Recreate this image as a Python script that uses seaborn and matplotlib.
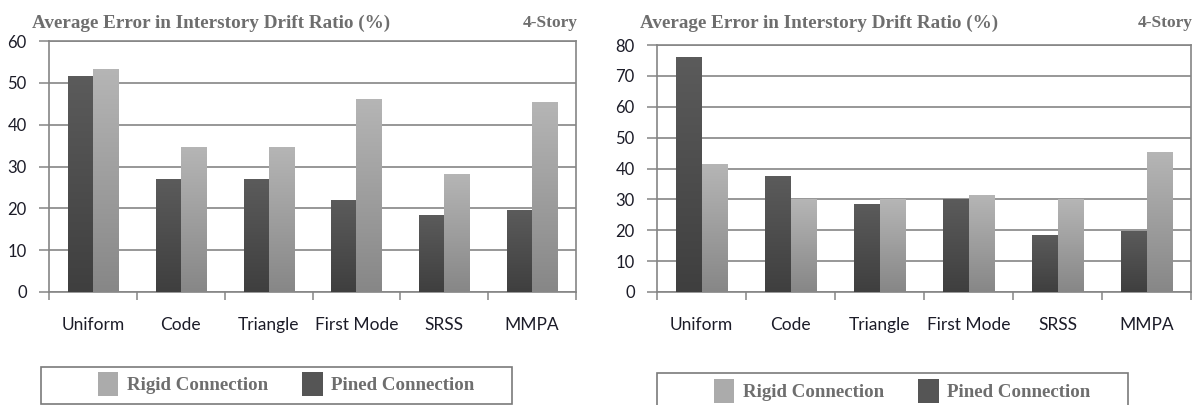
import numpy as np
import pandas as pd
import matplotlib
matplotlib.use("Agg")
import matplotlib.pyplot as plt
from matplotlib.patches import Patch, Rectangle
from matplotlib.ticker import FixedLocator
import seaborn as sns

# data
methods = ["Uniform", "Code", "Triangle", "First Mode", "SRSS", "MMPA"]
conns = ["Pined Connection", "Rigid Connection"]
left_pined = [51.6, 26.8, 26.8, 21.9, 18.4, 19.4]
left_rigid = [53.3, 34.6, 34.6, 46.0, 28.2, 45.2]
right_pined = [76.0, 37.4, 28.2, 30.1, 18.2, 19.5]
right_rigid = [41.2, 30.0, 30.0, 31.1, 30.0, 45.1]
left_yticks = [0, 10, 20, 30, 40, 50, 60]
right_yticks = [0, 10, 20, 30, 40, 50, 60, 70, 80]
title_text = "Average Error in Interstory Drift Ratio (%)"
story_text = "4-Story"

DARK = ("#5b5b5b", "#3f3f3f")   # top, bottom of gradient
LIGHT = ("#b5b5b5", "#878787")
GRID = "#858585"
TITLE_C = "#6e6e6e"

sns.set_style("white")
plt.rcParams["font.family"] = ["Lato", "DejaVu Sans"]

W, H = 1195, 405
fig = plt.figure(figsize=(W / 100, H / 100), dpi=100)


def long_df(pined, rigid):
    rows = []
    for m, p, r in zip(methods, pined, rigid):
        rows.append((m, conns[0], p))
        rows.append((m, conns[1], r))
    return pd.DataFrame(rows, columns=["method", "conn", "value"])


def gradient(top, bottom, n=64):
    t = np.linspace(0, 1, n)[:, None]
    c0 = np.array(matplotlib.colors.to_rgb(top))
    c1 = np.array(matplotlib.colors.to_rgb(bottom))
    return (c0 * (1 - t) + c1 * t)[:, None, :]


def draw_panel(px, pined, rigid, yticks, legend_box, legend_y):
    x0, x1, ytop, ybot = px
    ax = fig.add_axes([x0 / W, 1 - ybot / H, (x1 - x0) / W, (ybot - ytop) / H])
    df = long_df(pined, rigid)
    sns.barplot(data=df, x="method", y="value", hue="conn", hue_order=conns,
                palette=[DARK[1], LIGHT[1]], width=0.57, gap=0, ax=ax,
                legend=False, errorbar=None, linewidth=0, saturation=1)
    # vertical shading on each bar
    for cont, (ct, cb) in zip(ax.containers, [DARK, LIGHT]):
        img = gradient(ct, cb)
        for p in cont.patches:
            bx, bw, bh = p.get_x(), p.get_width(), p.get_height()
            ax.imshow(img, extent=(bx, bx + bw, 0, bh), origin="upper",
                      aspect="auto", zorder=3, interpolation="bilinear")
    ax.set_xlim(-0.5, len(methods) - 0.5)
    ax.set_ylim(yticks[0], yticks[-1])
    ax.set_yticks(yticks)
    ax.set_xlabel("")
    ax.set_ylabel("")
    ax.yaxis.grid(True, color=GRID, lw=1.2, zorder=0)
    ax.set_axisbelow(True)
    for s in ax.spines.values():
        s.set_color(GRID)
        s.set_linewidth(1.2)
    ax.xaxis.set_minor_locator(FixedLocator(np.arange(-0.5, len(methods), 1.0)))
    ax.tick_params(axis="x", which="major", length=0, pad=18, labelsize=12.5,
                   labelcolor="#1c1c28")
    ax.tick_params(axis="x", which="minor", length=6, color=GRID, width=1.1,
                   direction="out", bottom=True)
    ax.tick_params(axis="y", length=7, color=GRID, width=1.1, direction="out",
                   pad=9, labelsize=12, labelcolor="#1c1c28", left=True)

    # header texts
    fig.text((x0 - 17) / W, 1 - 23 / H, title_text, ha="left", va="center",
             family=["Liberation Serif"], weight="bold", size=13.8, color=TITLE_C)
    fig.text((x1 + 2) / W, 1 - 23 / H, story_text, ha="right", va="center",
             family=["Liberation Serif"], weight="bold", size=12.5, color=TITLE_C)

    # legend frame and entries
    lx0, ly0, lx1, ly1 = legend_box
    fig.patches.append(Rectangle((lx0 / W, 1 - ly1 / H), (lx1 - lx0) / W,
                                 (ly1 - ly0) / H, transform=fig.transFigure,
                                 fill=False, edgecolor="#7a7a7a", lw=1.2))
    handles = [Patch(facecolor="#ababab", edgecolor="none"),
               Patch(facecolor="#555555", edgecolor="none")]
    fig.legend(handles, ["Rigid Connection", "Pined Connection"],
               loc="center", bbox_to_anchor=((lx0 + lx1) / 2 / W + 0.008,
                                             1 - legend_y / H),
               ncol=2, frameon=False, handlelength=1.1, handleheight=1.6,
               handletextpad=0.45, columnspacing=1.8,
               prop={"family": "Liberation Serif", "weight": "bold", "size": 13.6},
               labelcolor=TITLE_C)
    return ax


draw_panel((49, 576, 41, 292), left_pined, left_rigid, left_yticks,
           (41, 367, 512, 404), 384)
draw_panel((657, 1191, 45, 292), right_pined, right_rigid, right_yticks,
           (657, 373, 1128, 412), 391)

fig.savefig("out.png", dpi=100)
